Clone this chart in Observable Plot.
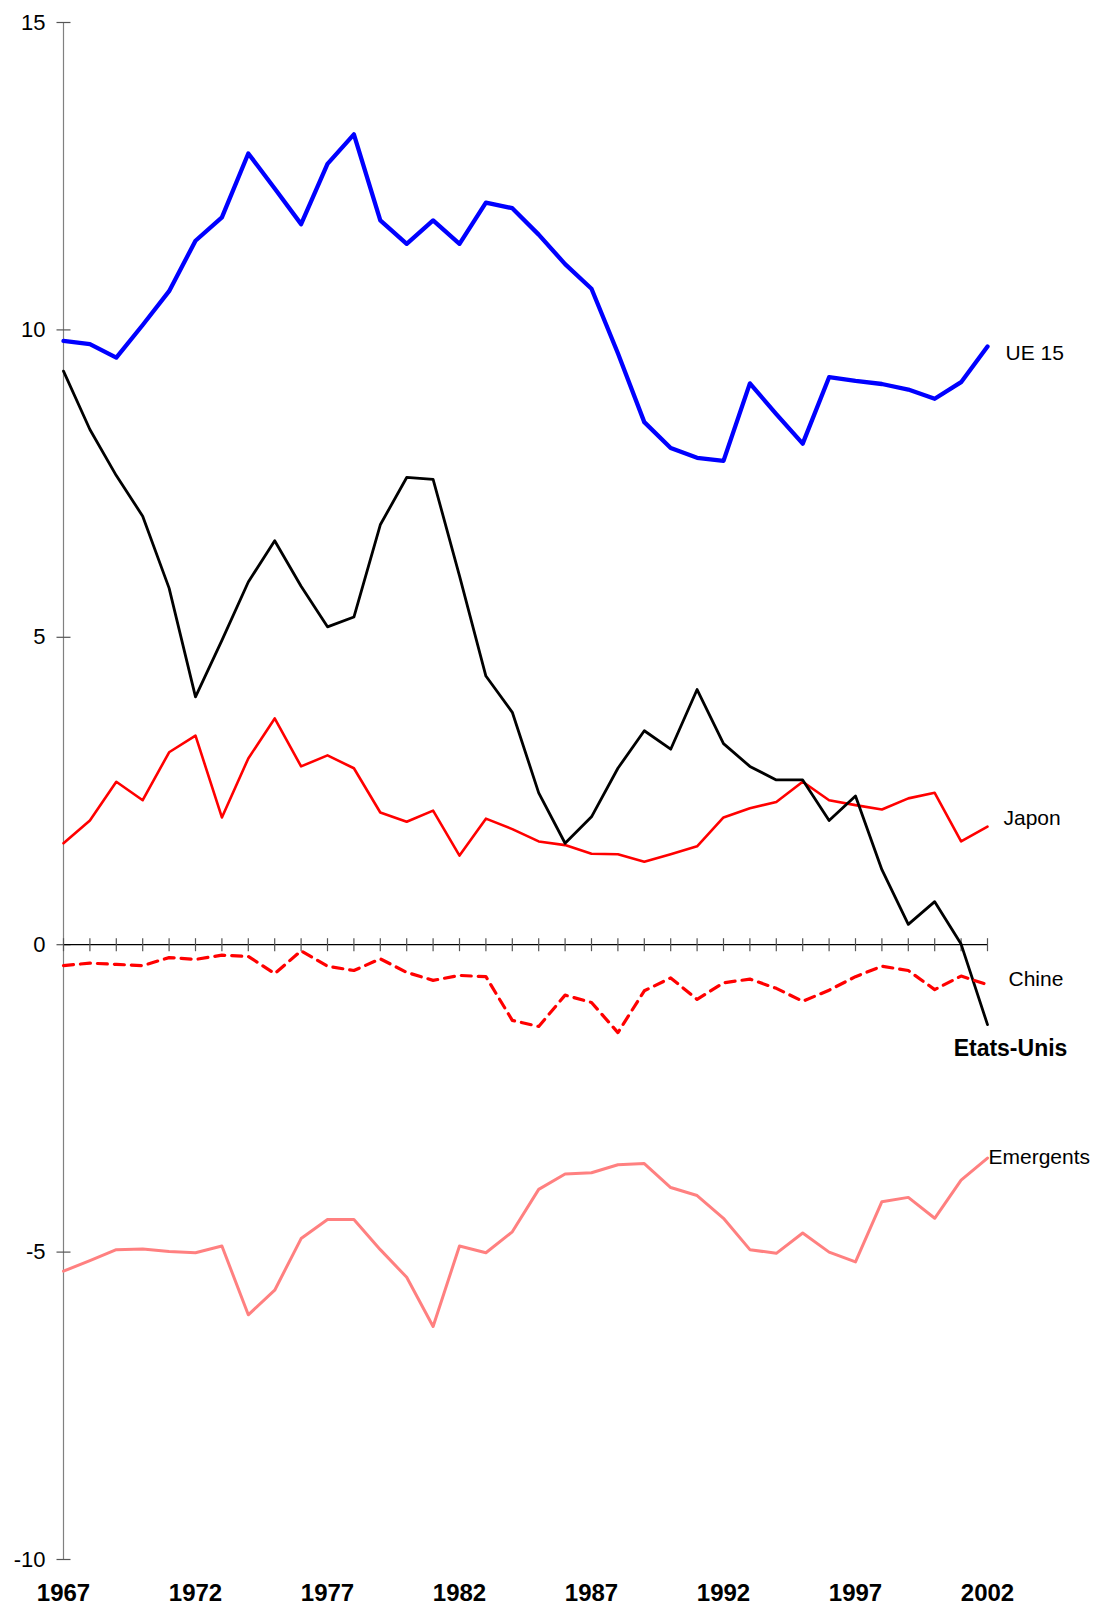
<!DOCTYPE html>
<html><head><meta charset="utf-8">
<script src="https://cdn.jsdelivr.net/npm/d3@7"></script>
<script src="https://cdn.jsdelivr.net/npm/@observablehq/plot@0.6"></script>
<style>body{margin:0;background:#fff;}</style>
</head><body><div id="chart"></div>
<script>
const years = [1967,1968,1969,1970,1971,1972,1973,1974,1975,1976,1977,1978,1979,1980,1981,1982,1983,1984,
  1985,1986,1987,1988,1989,1990,1991,1992,1993,1994,1995,1996,1997,1998,1999,2000,2001,2002];
const ue15 = [9.82,9.77,9.55,10.08,10.63,11.45,11.83,12.87,12.3,11.72,12.7,13.18,11.78,11.4,11.78,11.4,12.07,11.98,
  11.55,11.07,10.67,9.62,8.5,8.08,7.92,7.87,9.13,8.63,8.15,9.23,9.17,9.12,9.03,8.88,9.15,9.73];
const etatsUnis = [9.33,8.38,7.63,6.97,5.8,4.03,4.95,5.9,6.57,5.83,5.17,5.33,6.83,7.6,7.57,6.0,4.37,3.78,
  2.47,1.65,2.08,2.87,3.48,3.18,4.15,3.27,2.9,2.68,2.68,2.02,2.42,1.22,0.33,0.7,0.01,-1.3];
const japon = [1.65,2.02,2.65,2.35,3.13,3.4,2.07,3.03,3.68,2.9,3.08,2.87,2.15,2.0,2.18,1.45,2.05,1.88,
  1.68,1.62,1.48,1.47,1.35,1.47,1.6,2.07,2.22,2.32,2.65,2.35,2.27,2.2,2.38,2.47,1.68,1.92];
const chine = [-0.34,-0.3,-0.32,-0.34,-0.21,-0.24,-0.17,-0.19,-0.47,-0.1,-0.35,-0.42,-0.23,-0.45,-0.58,-0.5,-0.52,-1.23,
  -1.33,-0.82,-0.94,-1.43,-0.75,-0.54,-0.89,-0.62,-0.56,-0.71,-0.92,-0.74,-0.52,-0.35,-0.42,-0.73,-0.51,-0.65];
const emergents = [-5.31,-5.14,-4.96,-4.95,-4.99,-5.01,-4.9,-6.02,-5.62,-4.78,-4.47,-4.47,-4.96,-5.41,-6.21,-4.9,-5.01,-4.67,
  -3.98,-3.73,-3.71,-3.58,-3.56,-3.95,-4.08,-4.45,-4.96,-5.02,-4.69,-5.0,-5.16,-4.18,-4.11,-4.45,-3.83,-3.47];
const xTickLabels = [1967,1972,1977,1982,1987,1992,1997,2002];
const yTicks = [-10,-5,0,5,10,15];
const seriesNames = ["UE 15","Etats-Unis","Japon","Chine","Emergents"];

const rows = (vals) => years.map((year, i) => ({year, v: vals[i]}));
const last = (vals, name) => [{year: years[years.length-1], v: vals[vals.length-1], name}];

// custom tick-mark symbols (cross the axis line)
const vTick = {draw(ctx, size) { const r = Math.sqrt(size / Math.PI); ctx.moveTo(0, -r); ctx.lineTo(0, r); }};
const hTick = {draw(ctx, size) { const r = Math.sqrt(size / Math.PI); ctx.moveTo(-r, 0); ctx.lineTo(r, 0); }};

const font = "'Liberation Sans', Arial, Helvetica, sans-serif";

const chart = Plot.plot({
  width: 1096,
  height: 1605,
  marginLeft: 63,
  marginRight: 109,
  marginTop: 22,
  marginBottom: 46,
  style: {fontFamily: font, background: "#fff", color: "#000"},
  x: {domain: [1967, 2002]},
  y: {domain: [-10, 15]},
  marks: [
    Plot.axisX({ticks: xTickLabels, tickSize: 0, tickPadding: 24, tickFormat: d => String(d),
      fontSize: 24, fontWeight: "bold", label: null}),
    Plot.axisY({ticks: yTicks, tickSize: 0, tickPadding: 18, tickFormat: d => String(d),
      fontSize: 22, label: null}),
    Plot.ruleX([years[0]], {stroke: "#808080", strokeWidth: 1.2}),
    Plot.dot(yTicks, {x: () => years[0], y: d => d, symbol: hTick, r: 7, fill: "none",
      stroke: "#555", strokeWidth: 1.2}),
    Plot.ruleY([0], {stroke: "#000", strokeWidth: 1.2}),
    Plot.dot(years, {x: d => d, y: () => 0, symbol: vTick, r: 6.5, fill: "none",
      stroke: "#555", strokeWidth: 1.2}),
    Plot.line(rows(ue15), {x: "year", y: "v", stroke: "#0000ff", strokeWidth: 4.3}),
    Plot.line(rows(japon), {x: "year", y: "v", stroke: "#ff0000", strokeWidth: 2.6}),
    Plot.line(rows(etatsUnis), {x: "year", y: "v", stroke: "#000000", strokeWidth: 2.8}),
    Plot.line(rows(chine), {x: "year", y: "v", stroke: "#ff0000", strokeWidth: 3.2, strokeDasharray: "10,7"}),
    Plot.line(rows(emergents), {x: "year", y: "v", stroke: "#ff8080", strokeWidth: 3}),
    Plot.text(last(ue15, seriesNames[0]), {x: "year", y: "v", text: "name", dx: 18, dy: 7,
      textAnchor: "start", lineAnchor: "middle", fontSize: 21, fill: "#000"}),
    Plot.text(last(japon, seriesNames[2]), {x: "year", y: "v", text: "name", dx: 16, dy: -8,
      textAnchor: "start", lineAnchor: "middle", fontSize: 21, fill: "#000"}),
    Plot.text(last(chine, seriesNames[3]), {x: "year", y: "v", text: "name", dx: 21, dy: -5,
      textAnchor: "start", lineAnchor: "middle", fontSize: 21, fill: "#000"}),
    Plot.text(last(etatsUnis, seriesNames[1]), {x: "year", y: "v", text: "name", dx: 23, dy: 24,
      textAnchor: "middle", lineAnchor: "middle", fontSize: 23, fontWeight: "bold", fill: "#000"}),
    Plot.text(last(emergents, seriesNames[4]), {x: "year", y: "v", text: "name", dx: 1, dy: -1,
      textAnchor: "start", lineAnchor: "middle", fontSize: 21, fill: "#000"})
  ]
});
document.getElementById("chart").appendChild(chart);
</script>
</body></html>
